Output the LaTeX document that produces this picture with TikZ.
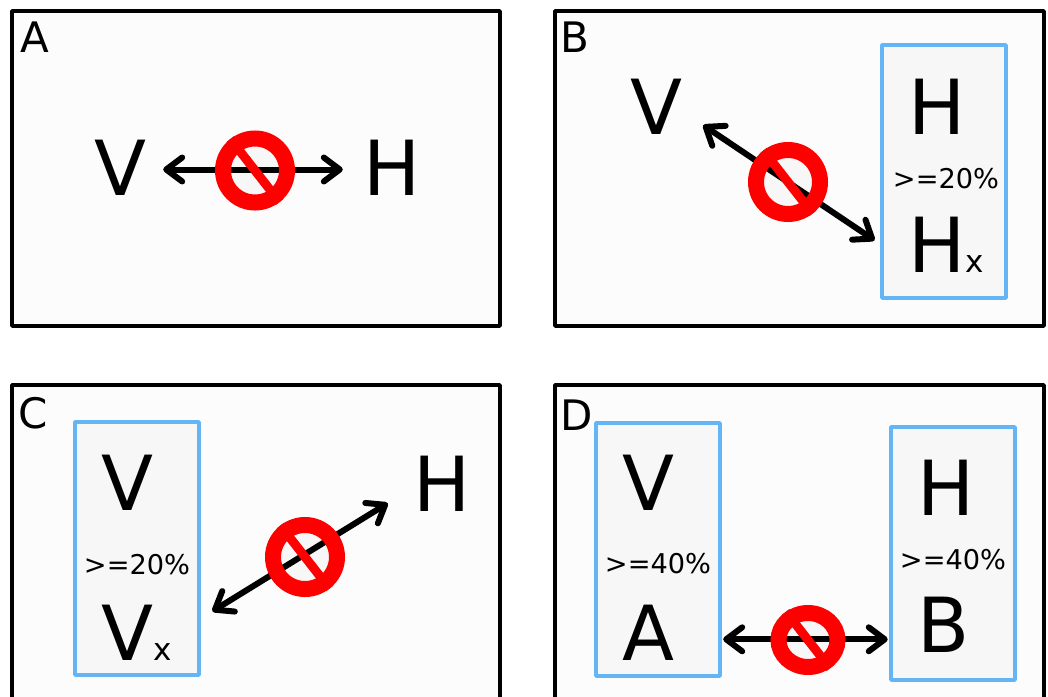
\documentclass[tikz,border=0pt]{standalone}
\usepackage{xcolor}
\usepackage{fontspec}
\setmainfont{DejaVu Sans}
\usepackage{tikz}
\usetikzlibrary{shapes.geometric,arrows.meta}
\definecolor{panelfill}{HTML}{FCFCFC}
\definecolor{boxfill}{HTML}{F7F7F7}
\definecolor{boxline}{HTML}{64B5F6}

\begin{document}
\begin{tikzpicture}[
    x=1pt, y=-1pt,
    panel/.style={rectangle, draw=black, fill=panelfill, line width=3.6pt, line join=round, minimum width=488pt, minimum height=315pt},
    group/.style={rectangle, draw=boxline, fill=boxfill, line width=3.6pt, line join=round, minimum width=124pt, minimum height=253pt},
    tag/.style={inner sep=0pt, anchor=base, font=\fontsize{42}{42}\selectfont},
    big/.style={inner sep=0pt, anchor=base, font=\fontsize{76}{76}\selectfont},
    share/.style={inner sep=0pt, anchor=base, font=\fontsize{27.2}{27}\selectfont},
    conflict/.style={{Straight Barb[length=16pt,width=24pt,round]}-{Straight Barb[length=16pt,width=24pt,round]}, line width=6pt, line cap=round, draw=black},
    nosign/.style={circle, draw=red, fill=black, fill opacity=0.02, draw opacity=1, line width=16pt, minimum size=64pt, inner sep=0pt},
    nosignwide/.style={ellipse, draw=red, fill=black, fill opacity=0.02, draw opacity=1, line width=16pt, minimum width=59pt, minimum height=54pt, inner sep=0pt},
    slash/.style={line width=9pt, draw=red},
]
    \useasboundingbox (0,0) rectangle (1048,696);
    \clip (0,0) rectangle (1048,696);

    % panels
    \node[panel] (panelA) at (256,168.5) {};
    \node[panel, minimum width=489pt] (panelB) at (799.5,168.5) {};
    \node[panel] (panelC) at (256,542.5) {};
    \node[panel, minimum width=489pt] (panelD) at (799.5,542.5) {};
    \node[tag] (tagA) at (35,52) {A};
    \node[tag] (tagB) at (575,52) {B};
    \node[tag] (tagC) at (33,428) {C};
    \node[tag] (tagD) at (577,430) {D};

    % blue groups
    \node[group] (groupB) at (944,171.5) {};
    \node[group] (groupC) at (137,548.5) {};
    \node[group] (groupV) at (658,549.5) {};
    \node[group] (groupH) at (953,553.5) {};

    % A
    \node[big] (vA) at (120,195) {V};
    \node[big] (hA) at (392,195) {H};
    \draw[conflict] ([shift={(17,2.2)}]vA.east) -- ([shift={(-20.4,2.2)}]hA.west);
    \node[nosign] (signA) at (255,170.5) {};
    \draw[slash] (signA.128) -- (signA.-52);

    % B
    \node[big] (vB) at (656,134) {V};
    \node[big] (hB) at (937,134) {H};
    \node[share] (shareB) at (946,188) {>=20\%};
    \node[big] (hxB) at (946.5,272) {H{\fontsize{31}{31}\selectfont x}};
    \draw[conflict] ([shift={(21,-9)}]vB.south east) -- ([shift={(-34,-4)}]hxB.west);
    \node[nosign] (signB) at (788,182) {};
    \draw[slash] (signB.128) -- (signB.-52);

    % C
    \node[big] (vC) at (127,510) {V};
    \node[share] (shareC) at (137,574) {>=20\%};
    \node[big] (vxC) at (137,660) {V{\fontsize{31}{31}\selectfont x}};
    \node[big] (hC) at (442,511) {H};
    \draw[conflict] ([shift={(40,-21)}]vxC.east) -- ([shift={(-25.5,-8)}]hC.south west);
    \node[nosign] (signC) at (305,557) {};
    \draw[slash] (signC.128) -- (signC.-52);

    % D
    \node[big] (vD) at (648,510) {V};
    \node[share] (shareV) at (658,573) {>=40\%};
    \node[big] (aD) at (648,660) {A};
    \node[big] (hD) at (946,515) {H};
    \node[share] (shareH) at (953,569) {>=40\%};
    \node[big] (bD) at (944,652) {B};
    \draw[conflict] ([shift={(49,7)}]aD.east) -- ([shift={(-30,15)}]bD.west);
    \node[nosignwide] (signD) at (808,640) {};
    \draw[slash] (signD.128) -- (signD.-52);
\end{tikzpicture}
\end{document}
